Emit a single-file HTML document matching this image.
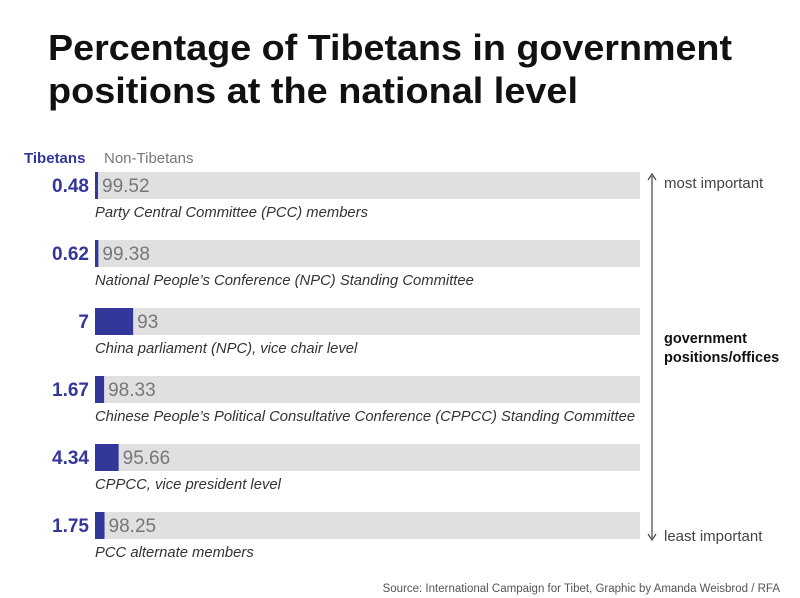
<!DOCTYPE html>
<html><head><meta charset="utf-8">
<style>
body{margin:0;background:#fff;width:800px;height:598px;overflow:hidden;font-family:"Liberation Sans",sans-serif}
svg{display:block}
</style></head>
<body>
<svg id="chart" width="800" height="598">
<text x="48" y="60" font-size="36" font-weight="bold" fill="#111" textLength="684" lengthAdjust="spacingAndGlyphs">Percentage of Tibetans in government</text>
<text x="48" y="103" font-size="36" font-weight="bold" fill="#111" textLength="530" lengthAdjust="spacingAndGlyphs">positions at the national level</text>
<text x="24" y="163" font-size="15" font-weight="bold" fill="#34379a">Tibetans</text>
<text x="104" y="163" font-size="15" fill="#777">Non-Tibetans</text>
<g id="bars"></g>
<line x1="652" y1="176" x2="652" y2="538" stroke="#444" stroke-width="1.2"/>
<path d="M648,180 L652,174 L656,180" fill="none" stroke="#444" stroke-width="1.2"/>
<path d="M648,534 L652,540 L656,534" fill="none" stroke="#444" stroke-width="1.2"/>
<text x="664" y="188" font-size="15" fill="#444">most important</text>
<text x="664" y="541" font-size="15" fill="#444">least important</text>
<text x="664" y="343" font-size="14.5" font-weight="bold" fill="#111">government</text>
<text x="664" y="362" font-size="14.5" font-weight="bold" fill="#111">positions/offices</text>
<text x="780" y="592" font-size="11.5" fill="#555" text-anchor="end">Source: International Campaign for Tibet, Graphic by Amanda Weisbrod / RFA</text>
</svg>
<script>
const categories = ["Party Central Committee (PCC) members","National People\u2019s Conference (NPC) Standing Committee","China parliament (NPC), vice chair level","Chinese People\u2019s Political Consultative Conference (CPPCC) Standing Committee","CPPCC, vice president level","PCC alternate members"];
const tibetans = [0.48,0.62,7,1.67,4.34,1.75];
const tibetanLabels = ["0.48","0.62","7","1.67","4.34","1.75"];
const nonTibetans = [99.52,99.38,93,98.33,95.66,98.25];
const nonTibetanLabels = ["99.52","99.38","93","98.33","95.66","98.25"];

const x0 = 95, x1 = 640;
const xs = v => (v/100)*(x1-x0);
const rowY = i => 172 + i*68;
const NS = "http://www.w3.org/2000/svg";
const g = document.getElementById("bars");
function mk(tag, attrs){const e=document.createElementNS(NS,tag);for(const k in attrs)e.setAttribute(k,attrs[k]);return e;}
categories.forEach((c,i)=>{
  const y = rowY(i), h = 27;
  const wT = Math.max(xs(tibetans[i]),3);
  const bg = mk("rect",{x:x0,y:y,width:xs(tibetans[i]+nonTibetans[i]),height:h,fill:"#e0e0e0"});
  
  
  g.appendChild(bg);
  const b = mk("rect",{x:x0,y:y,width:wT,height:h,fill:"#34379a"});
  
  
  g.appendChild(b);
  const lt = mk("text",{x:89,y:y+20,"font-size":19,"font-weight":"bold",fill:"#34379a","text-anchor":"end"});
  lt.textContent = tibetanLabels[i];
  
  
  g.appendChild(lt);
  const ln = mk("text",{x:x0+wT+4,y:y+20,"font-size":19,fill:"#777"});
  ln.textContent = nonTibetanLabels[i];
  
  
  g.appendChild(ln);
  const cl = mk("text",{x:95,y:y+45,"font-size":14.8,"font-style":"italic",fill:"#333"});
  cl.textContent = c;
  
  
  g.appendChild(cl);
});
</script>
</body></html>
